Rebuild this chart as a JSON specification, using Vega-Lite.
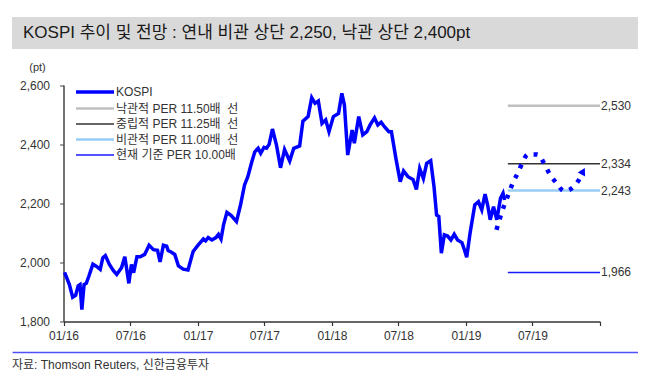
{
  "$schema": "https://vega.github.io/schema/vega-lite/v6.json",
  "padding": {"left": 12, "top": 17, "right": 0, "bottom": 0},
  "spacing": 30.5,
  "bounds": "flush",
  "config": {
    "font": "Liberation Sans, Noto Sans CJK KR",
    "view": {"stroke": null},
    "text": {"font": "Liberation Sans, Noto Sans CJK KR"}
  },
  "datasets": {
    "kospi": [
      {"d": "2016-01-04", "v": 1966}, {"d": "2016-01-17", "v": 1925}, {"d": "2016-01-26", "v": 1882}, {"d": "2016-02-03", "v": 1888},
      {"d": "2016-02-10", "v": 1921}, {"d": "2016-02-15", "v": 1925}, {"d": "2016-02-20", "v": 1840}, {"d": "2016-02-26", "v": 1925},
      {"d": "2016-03-03", "v": 1929}, {"d": "2016-03-10", "v": 1953}, {"d": "2016-03-21", "v": 1994}, {"d": "2016-03-30", "v": 1987},
      {"d": "2016-04-10", "v": 1976}, {"d": "2016-04-17", "v": 2015}, {"d": "2016-04-24", "v": 2023}, {"d": "2016-05-05", "v": 1993},
      {"d": "2016-05-16", "v": 1972}, {"d": "2016-05-25", "v": 1959}, {"d": "2016-06-07", "v": 1982}, {"d": "2016-06-16", "v": 2019},
      {"d": "2016-06-27", "v": 1929}, {"d": "2016-07-04", "v": 1993}, {"d": "2016-07-10", "v": 1965}, {"d": "2016-07-19", "v": 2019},
      {"d": "2016-07-28", "v": 2019}, {"d": "2016-08-09", "v": 2027}, {"d": "2016-08-21", "v": 2058}, {"d": "2016-09-02", "v": 2043},
      {"d": "2016-09-13", "v": 2041}, {"d": "2016-09-20", "v": 2002}, {"d": "2016-09-29", "v": 2058}, {"d": "2016-10-08", "v": 2055},
      {"d": "2016-10-12", "v": 2040}, {"d": "2016-10-21", "v": 2034}, {"d": "2016-10-30", "v": 2027}, {"d": "2016-11-09", "v": 1988},
      {"d": "2016-11-22", "v": 1977}, {"d": "2016-12-05", "v": 1974}, {"d": "2016-12-19", "v": 2037}, {"d": "2017-01-02", "v": 2059},
      {"d": "2017-01-16", "v": 2079}, {"d": "2017-01-22", "v": 2073}, {"d": "2017-01-29", "v": 2084}, {"d": "2017-02-08", "v": 2076},
      {"d": "2017-02-19", "v": 2084}, {"d": "2017-02-26", "v": 2095}, {"d": "2017-03-05", "v": 2079}, {"d": "2017-03-12", "v": 2128},
      {"d": "2017-03-21", "v": 2169}, {"d": "2017-04-02", "v": 2158}, {"d": "2017-04-16", "v": 2138}, {"d": "2017-04-27", "v": 2194},
      {"d": "2017-05-08", "v": 2262}, {"d": "2017-05-17", "v": 2290}, {"d": "2017-05-28", "v": 2341}, {"d": "2017-06-05", "v": 2374},
      {"d": "2017-06-14", "v": 2386}, {"d": "2017-06-21", "v": 2369}, {"d": "2017-06-30", "v": 2389}, {"d": "2017-07-07", "v": 2386},
      {"d": "2017-07-14", "v": 2399}, {"d": "2017-07-23", "v": 2451}, {"d": "2017-08-03", "v": 2397}, {"d": "2017-08-14", "v": 2320},
      {"d": "2017-08-25", "v": 2382}, {"d": "2017-09-08", "v": 2343}, {"d": "2017-09-19", "v": 2386}, {"d": "2017-10-05", "v": 2394},
      {"d": "2017-10-14", "v": 2478}, {"d": "2017-10-28", "v": 2493}, {"d": "2017-11-07", "v": 2557}, {"d": "2017-11-16", "v": 2538},
      {"d": "2017-11-25", "v": 2546}, {"d": "2017-12-05", "v": 2470}, {"d": "2017-12-15", "v": 2482}, {"d": "2017-12-24", "v": 2442},
      {"d": "2018-01-05", "v": 2493}, {"d": "2018-01-19", "v": 2504}, {"d": "2018-01-28", "v": 2572}, {"d": "2018-02-04", "v": 2532},
      {"d": "2018-02-13", "v": 2363}, {"d": "2018-02-25", "v": 2448}, {"d": "2018-03-03", "v": 2403}, {"d": "2018-03-15", "v": 2493},
      {"d": "2018-03-26", "v": 2431}, {"d": "2018-04-06", "v": 2442}, {"d": "2018-04-15", "v": 2465}, {"d": "2018-04-27", "v": 2489},
      {"d": "2018-05-06", "v": 2465}, {"d": "2018-05-15", "v": 2474}, {"d": "2018-05-24", "v": 2459}, {"d": "2018-06-05", "v": 2442},
      {"d": "2018-06-12", "v": 2442}, {"d": "2018-06-25", "v": 2346}, {"d": "2018-07-06", "v": 2273}, {"d": "2018-07-15", "v": 2309},
      {"d": "2018-07-27", "v": 2290}, {"d": "2018-08-10", "v": 2280}, {"d": "2018-08-19", "v": 2247}, {"d": "2018-08-28", "v": 2318},
      {"d": "2018-09-07", "v": 2284}, {"d": "2018-09-16", "v": 2335}, {"d": "2018-09-27", "v": 2344}, {"d": "2018-10-06", "v": 2256},
      {"d": "2018-10-13", "v": 2160}, {"d": "2018-10-19", "v": 2155}, {"d": "2018-10-26", "v": 2031}, {"d": "2018-11-03", "v": 2093},
      {"d": "2018-11-12", "v": 2089}, {"d": "2018-11-21", "v": 2076}, {"d": "2018-11-30", "v": 2095}, {"d": "2018-12-09", "v": 2076},
      {"d": "2018-12-21", "v": 2067}, {"d": "2018-12-28", "v": 2042}, {"d": "2019-01-03", "v": 2017}, {"d": "2019-01-12", "v": 2098},
      {"d": "2019-01-25", "v": 2194}, {"d": "2019-02-04", "v": 2205}, {"d": "2019-02-13", "v": 2178}, {"d": "2019-02-22", "v": 2231},
      {"d": "2019-03-01", "v": 2194}, {"d": "2019-03-08", "v": 2144}, {"d": "2019-03-17", "v": 2188}, {"d": "2019-03-26", "v": 2144},
      {"d": "2019-04-05", "v": 2217}, {"d": "2019-04-12", "v": 2234}, {"d": "2019-04-16", "v": 2211}
    ],
    "forecast": [
      {"d": "2019-03-25", "v": 2110}, {"d": "2019-04-13", "v": 2186}, {"d": "2019-04-25", "v": 2225}, {"d": "2019-05-08", "v": 2267},
      {"d": "2019-05-24", "v": 2307}, {"d": "2019-06-05", "v": 2341}, {"d": "2019-06-18", "v": 2365}, {"d": "2019-07-14", "v": 2365},
      {"d": "2019-08-01", "v": 2337}, {"d": "2019-08-16", "v": 2301}, {"d": "2019-09-04", "v": 2269}, {"d": "2019-09-26", "v": 2241},
      {"d": "2019-10-23", "v": 2258}, {"d": "2019-11-06", "v": 2282}, {"d": "2019-11-14", "v": 2300}
    ],
    "arrow": [{"d": "2019-11-16", "v": 2308}],
    "levels": [
      {"series": "낙관적 PER 11.50배\u00a0\u00a0선", "start": "2019-04-25", "end": "2020-01-01", "value": 2530},
      {"series": "중립적 PER 11.25배\u00a0\u00a0선", "start": "2019-04-25", "end": "2020-01-01", "value": 2334},
      {"series": "비관적 PER 11.00배\u00a0\u00a0선", "start": "2019-04-25", "end": "2020-01-01", "value": 2243},
      {"series": "현재 기준 PER 10.00배", "start": "2019-04-25", "end": "2020-01-01", "value": 1966}
    ]
  },
  "vconcat": [
    {
      "width": 626,
      "height": 32,
      "view": {"fill": "#d9d9d9", "stroke": null},
      "data": {"values": [{"t": "KOSPI 추이 및 전망 : 연내 비관 상단 2,250, 낙관 상단 2,400pt"}]},
      "mark": {"type": "text", "align": "left", "baseline": "middle", "dx": 11, "fontSize": 17, "color": "#1a1a1a"},
      "encoding": {
        "text": {"field": "t"},
        "x": {"datum": 0, "type": "quantitative", "scale": {"domain": [0, 1]}, "axis": null}
      }
    },
    {
      "width": 626,
      "height": 242,
      "view": {"stroke": null},
      "encoding": {
        "x": {
          "type": "temporal",
          "scale": {"type": "utc", "domain": [{"year": 2016, "month": 1, "date": 1, "utc": true}, {"year": 2020, "month": 1, "date": 1, "utc": true}], "range": [51.5, 588]},
          "axis": {
            "title": null,
            "values": [
              {"year": 2016, "month": 1, "date": 1, "utc": true}, {"year": 2016, "month": 7, "date": 1, "utc": true},
              {"year": 2017, "month": 1, "date": 1, "utc": true}, {"year": 2017, "month": 7, "date": 1, "utc": true},
              {"year": 2018, "month": 1, "date": 1, "utc": true}, {"year": 2018, "month": 7, "date": 1, "utc": true},
              {"year": 2019, "month": 1, "date": 1, "utc": true}, {"year": 2019, "month": 7, "date": 1, "utc": true},
              {"year": 2020, "month": 1, "date": 1, "utc": true}
            ],
            "labelExpr": "utcFormat(datum.value, '%m/%y') == '01/20' ? '' : utcFormat(datum.value, '%m/%y')",
            "grid": false,
            "domainColor": "#333333",
            "domainWidth": 1.5,
            "tickColor": "#333333",
            "tickSize": 4,
            "tickWidth": 1.2,
            "labelFontSize": 12,
            "labelColor": "#333333",
            "labelPadding": 5,
            "labelFlush": false
          }
        },
        "y": {
          "type": "quantitative",
          "scale": {"domain": [1800, 2600], "range": [242, 5.5], "nice": false, "zero": false},
          "axis": {
            "title": "(pt)",
            "titleAngle": 0,
            "titleX": -26.5,
            "titleY": -12.5,
            "titleAlign": "center",
            "titleBaseline": "middle",
            "titleFontSize": 11,
            "titleFontWeight": "normal",
            "titleColor": "#333333",
            "offset": -51.5,
            "values": [1800, 2000, 2200, 2400, 2600],
            "format": ",d",
            "grid": false,
            "domainColor": "#444444",
            "domainWidth": 1.5,
            "tickColor": "#444444",
            "tickSize": 4,
            "labelFontSize": 12,
            "labelColor": "#333333",
            "labelPadding": 10
          }
        }
      },
      "layer": [
        {
          "data": {"name": "levels"},
          "mark": {"type": "rule"},
          "encoding": {
            "x": {"field": "start"},
            "x2": {"field": "end"},
            "y": {"field": "value"},
            "color": {
              "field": "series", "type": "nominal",
              "scale": {
                "domain": ["KOSPI", "낙관적 PER 11.50배\u00a0\u00a0선", "중립적 PER 11.25배\u00a0\u00a0선", "비관적 PER 11.00배\u00a0\u00a0선", "현재 기준 PER 10.00배"],
                "range": ["#0000ff", "#c0c0c0", "#333333", "#99ccf5", "#1a1aff"]
              },
              "legend": {
                "title": null, "orient": "none", "legendX": 63, "legendY": 69, "padding": 0,
                "symbolType": "M-3.8,0H3.8", "symbolSize": 100, "symbolOffset": 14, "symbolStrokeWidth": 2.5,
                "labelOffset": 15, "labelFontSize": 12, "labelColor": "#333333", "rowPadding": 3.5,
                "labelLimit": 300,
                "encode": {
                  "symbols": {
                    "update": {
                      "strokeWidth": {"signal": "datum.index == 0 ? 3.5 : ((datum.index == 2 || datum.index == 4) ? 1.5 : 2.5)"}
                    }
                  }
                }
              }
            },
            "strokeWidth": {
              "field": "series", "type": "nominal",
              "scale": {
                "type": "ordinal",
                "domain": ["낙관적 PER 11.50배\u00a0\u00a0선", "중립적 PER 11.25배\u00a0\u00a0선", "비관적 PER 11.00배\u00a0\u00a0선", "현재 기준 PER 10.00배"],
                "range": [2.5, 1.5, 2.5, 1.5]
              },
              "legend": null
            }
          }
        },
        {
          "data": {"name": "kospi"},
          "mark": {"type": "line", "strokeWidth": 3.5},
          "encoding": {
            "x": {"field": "d"},
            "y": {"field": "v"},
            "color": {"datum": "KOSPI"}
          }
        },
        {
          "data": {"name": "forecast"},
          "mark": {"type": "line", "color": "#0000ff", "strokeWidth": 4.5, "strokeDash": [4, 7], "interpolate": "monotone"},
          "encoding": {
            "x": {"field": "d"},
            "y": {"field": "v"}
          }
        },
        {
          "data": {"name": "arrow"},
          "mark": {"type": "point", "shape": "triangle-up", "filled": true, "color": "#0000ff", "size": 70, "angle": 28, "opacity": 1},
          "encoding": {
            "x": {"field": "d"},
            "y": {"field": "v"}
          }
        },
        {
          "data": {"name": "levels"},
          "mark": {"type": "text", "align": "left", "baseline": "middle", "dx": 1, "fontSize": 12, "color": "#333333"},
          "encoding": {
            "x": {"field": "end"},
            "y": {"field": "value"},
            "text": {"field": "value", "format": ",d"}
          }
        }
      ]
    },
    {
      "width": 626,
      "height": 26,
      "view": {"stroke": null},
      "data": {"values": [{"t": "자료: Thomson Reuters, 신한금융투자"}]},
      "mark": {"type": "text", "align": "left", "baseline": "middle", "fontSize": 12, "color": "#333333"},
      "encoding": {
        "text": {"field": "t"},
        "x": {
          "datum": 0, "type": "quantitative", "scale": {"domain": [0, 1]},
          "axis": {"orient": "top", "title": null, "labels": false, "ticks": false, "grid": false, "domainColor": "#5050ff", "domainWidth": 1.5}
        }
      }
    }
  ]
}
